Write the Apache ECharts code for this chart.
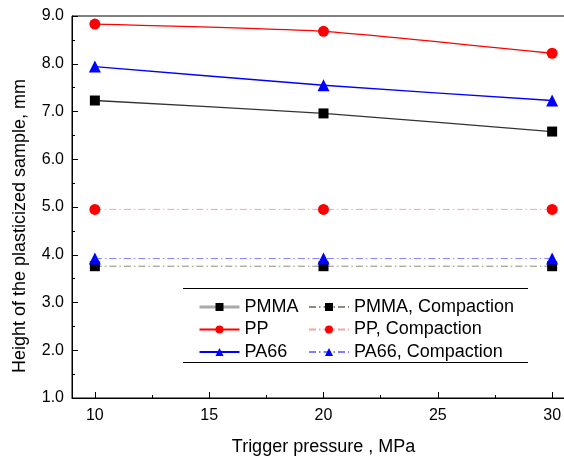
<!DOCTYPE html>
<html>
<head>
<meta charset="utf-8">
<script src="https://cdn.jsdelivr.net/npm/echarts@6/dist/echarts.min.js"></script>
<style>
html,body{margin:0;padding:0;background:#fff;}
#main{width:564px;height:457px;}
</style>
</head>
<body>
<div id="main"></div>
<script>
var myChart = echarts.init(document.getElementById('main'));

// data
var pressures = [10, 20, 30];
var pmma = [7.23, 6.96, 6.58];
var pp = [8.83, 8.68, 8.22];
var pa66 = [7.94, 7.55, 7.23];
var pmmaComp = [3.76, 3.76, 3.76];
var ppComp = [4.95, 4.95, 4.95];
var pa66Comp = [3.92, 3.92, 3.92];
var xTicks = [10, 15, 20, 25, 30];
var xMinorTicks = [12.5, 17.5, 22.5, 27.5];

var FONT = 'Liberation Sans, Arial, sans-serif';
var dashDot = [7, 3, 1.5, 3];

function pairs(vals) {
    return pressures.map(function (p, i) { return [p, vals[i]]; });
}

function mainSeries(name, vals, color, symbol, size) {
    return {
        name: name, type: 'line', data: pairs(vals),
        smooth: 0.15, symbol: symbol, symbolSize: size,
        lineStyle: { color: color, width: 1.3 },
        itemStyle: { color: symbol == 'rect' ? '#000' : color }
    };
}
function compSeries(name, vals, lineColor, markColor, symbol, size) {
    return {
        name: name, type: 'line', data: pairs(vals),
        symbol: symbol, symbolSize: size,
        lineStyle: { color: lineColor, width: 1, type: dashDot },
        itemStyle: { color: markColor }
    };
}

var legendText = { fontFamily: FONT, fontSize: 18, color: '#000', lineHeight: 22 };

var option = {
    backgroundColor: '#fff',
    animation: false,
    grid: {
        left: 72, top: 16, right: -11, bottom: 59,
        outerBoundsMode: 'none', containLabel: false,
        show: true, borderColor: '#000', borderWidth: 1
    },
    legend: [
        {
            orient: 'vertical', left: 193, top: 291,
            itemWidth: 40, itemHeight: 10, itemGap: 0.5,
            textStyle: legendText,
            data: [
                { name: 'PMMA', lineStyle: { color: '#aaaaaa', width: 3 } },
                'PP', 'PA66'
            ]
        },
        {
            orient: 'vertical', left: 303, top: 291,
            itemWidth: 40, itemHeight: 10, itemGap: 0.5,
            textStyle: legendText,
            data: ['PMMA, Compaction', 'PP, Compaction', 'PA66, Compaction']
        }
    ],
    graphic: [
        { type: 'line', shape: { x1: 183, y1: 288.5, x2: 528, y2: 288.5 }, style: { stroke: '#000', lineWidth: 1 } },
        { type: 'line', shape: { x1: 183, y1: 362.5, x2: 528, y2: 362.5 }, style: { stroke: '#000', lineWidth: 1 } },
        {
            type: 'text', x: 20, y: 226, rotation: Math.PI / 2,
            style: {
                text: 'Height of the plasticized sample, mm',
                font: '18px ' + FONT, fill: '#000',
                textAlign: 'center', textVerticalAlign: 'middle'
            }
        }
    ],
    xAxis: [
        {
            type: 'value', min: 9, max: 31,
            name: 'Trigger pressure , MPa', nameLocation: 'middle', nameGap: 40,
            nameTextStyle: { fontFamily: FONT, fontSize: 18, color: '#000' },
            axisLine: { show: true, lineStyle: { color: '#000', width: 1 } },
            axisTick: { show: true, inside: true, length: 6, customValues: xTicks, lineStyle: { color: '#000', width: 1 } },
            axisLabel: { customValues: xTicks, fontFamily: FONT, fontSize: 16, color: '#000', margin: 10 },
            splitLine: { show: false }
        },
        {
            type: 'value', min: 9, max: 31, position: 'bottom',
            axisLine: { show: false },
            axisTick: { show: true, inside: true, length: 3, customValues: xMinorTicks, lineStyle: { color: '#000', width: 1 } },
            axisLabel: { show: false },
            splitLine: { show: false }
        }
    ],
    yAxis: {
        type: 'value', min: 1, max: 9, interval: 1,
        axisLine: { show: true, lineStyle: { color: '#000', width: 1 } },
        axisTick: { show: true, inside: true, length: 6, lineStyle: { color: '#000', width: 1 } },
        minorTick: { show: true, splitNumber: 2, length: 3, lineStyle: { color: '#000', width: 1 } },
        axisLabel: {
            fontFamily: FONT, fontSize: 16, color: '#000', margin: 8,
            formatter: function (v) { return v.toFixed(1); }
        },
        splitLine: { show: false }
    },
    series: [
        mainSeries('PMMA', pmma, '#333333', 'rect', 10),
        mainSeries('PP', pp, '#ff0000', 'circle', 11),
        mainSeries('PA66', pa66, '#0000ff', 'triangle', 12),
        compSeries('PMMA, Compaction', pmmaComp, '#8c8c7a', '#000', 'rect', 10),
        compSeries('PP, Compaction', ppComp, '#f5a3a3', '#ff0000', 'circle', 11),
        compSeries('PA66, Compaction', pa66Comp, '#8080ff', '#0000ff', 'triangle', 12)
    ]
};
myChart.setOption(option);
</script>
</body>
</html>
